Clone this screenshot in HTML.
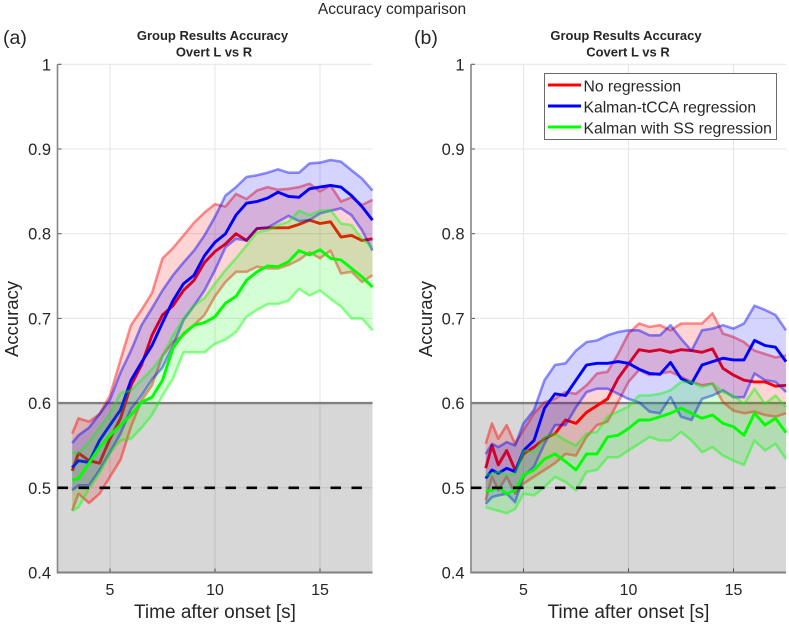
<!DOCTYPE html>
<html lang="en">
<head>
<meta charset="utf-8">
<title>Accuracy comparison</title>
<style>
html,body{margin:0;padding:0;background:#fff;}
svg{display:block;font-family:"Liberation Sans",Arial,sans-serif;}
text{fill:#262626;}
</style>
</head>
<body>
<svg id="chart" xmlns="http://www.w3.org/2000/svg" width="789" height="626" viewBox="0 0 789 626">
<rect x="0" y="0" width="789" height="626" fill="#fff"/>
<text x="392" y="14" font-size="15.5" text-anchor="middle">Accuracy comparison</text>
<text x="3" y="44" font-size="19.5">(a)</text>
<text x="414" y="44" font-size="19.5">(b)</text>
<text x="212.5" y="40" font-size="13" font-weight="bold" text-anchor="middle">Group Results Accuracy</text>
<text x="214" y="56.5" font-size="13" font-weight="bold" text-anchor="middle">Overt L vs R</text>
<text x="626" y="40" font-size="13" font-weight="bold" text-anchor="middle">Group Results Accuracy</text>
<text x="628" y="56.5" font-size="13" font-weight="bold" text-anchor="middle">Covert L vs R</text>
<text x="215" y="618" font-size="19" text-anchor="middle">Time after onset [s]</text>
<text x="628.5" y="618" font-size="19" text-anchor="middle">Time after onset [s]</text>
<text transform="translate(18,319) rotate(-90)" font-size="18.5" text-anchor="middle">Accuracy</text>
<text transform="translate(432,319) rotate(-90)" font-size="18.5" text-anchor="middle">Accuracy</text>
<g id="panel-a"></g>
<g id="panel-b"></g>
<g>
<rect x="544.5" y="73.5" width="232" height="66" fill="#fff" stroke="#6a6a6a" stroke-width="1"/>
<line x1="548" x2="581" y1="85" y2="85" stroke="#ff0000" stroke-width="3"/>
<text x="583.5" y="91.5" font-size="15.7">No regression</text>
<line x1="548" x2="581" y1="106" y2="106" stroke="#0000ff" stroke-width="3"/>
<text x="583.5" y="112.5" font-size="15.7">Kalman-tCCA regression</text>
<line x1="548" x2="581" y1="127" y2="127" stroke="#00ff00" stroke-width="3"/>
<text x="583.5" y="133.5" font-size="15.7">Kalman with SS regression</text>
</g>
</svg>
<script>
const xTicks = [5, 10, 15];
const yTicks = [0.4, 0.5, 0.6, 0.7, 0.8, 0.9, 1];
const yTickLabels = ["0.4", "0.5", "0.6", "0.7", "0.8", "0.9", "1"];
const chanceLevel = 0.5;
const significanceLevel = 0.6;

const timesA = [3.2,3.5,4,4.5,5,5.5,6,6.5,7,7.5,8,8.5,9,9.5,10,10.5,11,11.5,12,12.5,13,13.5,14,14.5,15,15.5,16,16.5,17,17.5];
const overtNoRegMean = [.52,.541,.532,.529,.558,.582,.621,.645,.68,.704,.715,.733,.745,.766,.779,.788,.8,.792,.806,.807,.807,.807,.811,.816,.812,.814,.796,.798,.792,.794];
const overtNoRegUpper = [.564,.582,.578,.587,.609,.651,.692,.71,.73,.771,.783,.798,.813,.825,.835,.832,.847,.841,.851,.855,.852,.853,.855,.859,.85,.857,.838,.843,.834,.84];
const overtNoRegLower = [.473,.493,.482,.493,.513,.533,.572,.603,.621,.656,.672,.68,.692,.704,.726,.743,.755,.755,.761,.759,.759,.763,.769,.778,.771,.78,.753,.755,.743,.751];
const overtTccaMean = [.524,.532,.53,.556,.574,.592,.627,.648,.668,.695,.721,.741,.751,.774,.79,.8,.822,.836,.838,.842,.849,.844,.843,.853,.855,.857,.855,.845,.832,.816];
const overtTccaUpper = [.553,.562,.571,.587,.604,.636,.662,.692,.712,.733,.751,.766,.78,.798,.82,.845,.855,.867,.869,.872,.876,.872,.872,.883,.884,.887,.885,.875,.865,.851];
const overtTccaLower = [.497,.503,.503,.521,.542,.564,.593,.609,.628,.642,.668,.698,.715,.733,.757,.784,.794,.792,.806,.807,.814,.821,.815,.816,.824,.827,.83,.822,.804,.78];
const overtSsMean = [.509,.511,.529,.548,.562,.574,.586,.601,.607,.627,.665,.682,.692,.695,.702,.718,.726,.745,.755,.762,.761,.767,.78,.775,.781,.771,.769,.759,.749,.737];
const overtSsUpper = [.542,.541,.554,.571,.587,.612,.615,.627,.64,.656,.68,.7,.715,.724,.741,.757,.771,.786,.802,.804,.81,.814,.827,.822,.827,.828,.812,.81,.794,.784];
const overtSsLower = [.473,.477,.499,.517,.541,.556,.558,.571,.586,.609,.629,.66,.66,.66,.67,.675,.684,.702,.71,.717,.717,.721,.735,.727,.733,.723,.714,.7,.7,.686];

const timesB = [3.2,3.5,3.8,4.2,4.6,5,5.5,6,6.5,7,7.5,8,8.5,9,9.5,10,10.5,11,11.5,12,12.5,13,13.5,14,14.5,15,15.5,16,16.5,17,17.5];
const covertNoRegMean = [.523,.55,.527,.544,.521,.54,.548,.558,.564,.58,.576,.589,.597,.605,.629,.646,.663,.661,.663,.66,.663,.662,.66,.664,.641,.633,.627,.625,.625,.62,.621];
const covertNoRegUpper = [.552,.576,.558,.574,.552,.568,.588,.601,.605,.613,.611,.621,.635,.637,.658,.682,.694,.69,.692,.686,.694,.694,.694,.706,.682,.678,.672,.662,.658,.654,.656];
const covertNoRegLower = [.485,.513,.497,.513,.493,.505,.513,.521,.529,.54,.538,.56,.574,.578,.601,.625,.639,.633,.635,.637,.631,.625,.621,.623,.601,.591,.588,.59,.586,.584,.588];
const covertTccaMean = [.511,.521,.517,.523,.519,.544,.556,.594,.611,.609,.627,.645,.647,.647,.649,.647,.64,.635,.634,.648,.629,.623,.645,.649,.653,.651,.651,.674,.668,.666,.649];
const covertTccaUpper = [.54,.552,.548,.554,.55,.576,.592,.627,.645,.647,.662,.672,.674,.68,.684,.686,.686,.68,.68,.692,.676,.662,.686,.688,.692,.688,.694,.715,.71,.704,.686];
const covertTccaLower = [.481,.489,.491,.493,.483,.513,.525,.552,.574,.574,.595,.613,.617,.617,.611,.605,.601,.59,.588,.607,.584,.58,.605,.609,.615,.607,.607,.635,.627,.625,.613];
const covertSsMean = [.496,.497,.501,.493,.497,.515,.521,.534,.54,.531,.521,.54,.54,.56,.562,.57,.58,.58,.584,.588,.594,.588,.582,.586,.576,.572,.562,.588,.574,.582,.565];
const covertSsUpper = [.515,.517,.519,.515,.517,.544,.542,.56,.564,.556,.55,.564,.566,.584,.59,.596,.609,.609,.611,.615,.625,.625,.619,.623,.613,.609,.599,.617,.599,.609,.595];
const covertSsLower = [.477,.475,.473,.47,.475,.493,.491,.501,.513,.507,.497,.519,.521,.536,.536,.544,.552,.56,.556,.556,.566,.556,.542,.548,.538,.532,.527,.556,.544,.552,.534];

const NS = 'http://www.w3.org/2000/svg';
const X_MIN = 2.5, X_MAX = 17.5, Y_MIN = 0.4, Y_MAX = 1;

function make(parent, tag, attrs) {
  const el = document.createElementNS(NS, tag);
  for (const k in attrs) el.setAttribute(k, attrs[k]);
  parent.appendChild(el);
  return el;
}

function drawPanel(root, prefix, left, times, seriesList) {
  const right = left + 315, top = 64.3, bottom = 572.5;
  const sx = t => left + (t - X_MIN) / (X_MAX - X_MIN) * (right - left);
  const sy = a => bottom - (a - Y_MIN) / (Y_MAX - Y_MIN) * (bottom - top);
  const pts = (xs, ys) => ys.map((v, i) => sx(xs[i]).toFixed(1) + ',' + sy(v).toFixed(1));

  xTicks.forEach(t => {
    const g = make(root, 'line', {x1: sx(t), x2: sx(t), y1: top, y2: bottom, stroke: '#e4e4e4', 'stroke-width': 1});
    
    
    const tk = make(root, 'line', {x1: sx(t), x2: sx(t), y1: bottom, y2: bottom - 4, stroke: '#555', 'stroke-width': 1});
    
    
    const lb = make(root, 'text', {x: sx(t), y: 595, 'font-size': 16, 'text-anchor': 'middle'});
    lb.textContent = String(t);
    
    
  });
  yTicks.forEach((a, i) => {
    const g = make(root, 'line', {x1: left, x2: right, y1: sy(a), y2: sy(a), stroke: '#e4e4e4', 'stroke-width': 1});
    
    
    const tk = make(root, 'line', {x1: left, x2: left + 4, y1: sy(a), y2: sy(a), stroke: '#555', 'stroke-width': 1});
    
    
    const lb = make(root, 'text', {x: left - 6.5, y: sy(a) + 6, 'font-size': 16.5, 'text-anchor': 'end'});
    lb.textContent = yTickLabels[i];
    
    
  });

  const patch = make(root, 'rect', {x: left, y: sy(significanceLevel), width: right - left, height: sy(Y_MIN) - sy(significanceLevel), fill: '#000', 'fill-opacity': 0.155});
  
  
  const patchTop = make(root, 'line', {x1: left, x2: right, y1: sy(significanceLevel), y2: sy(significanceLevel), stroke: '#808080', 'stroke-width': 2.4});
  
  

  const spineL = make(root, 'line', {x1: left, x2: left, y1: top, y2: bottom + 1, stroke: '#868686', 'stroke-width': 1.6});
  
  
  const spineB = make(root, 'line', {x1: left, x2: right, y1: bottom, y2: bottom, stroke: '#808080', 'stroke-width': 2});
  
  

  seriesList.forEach(s => {
    const up = pts(times, s.upper), lo = pts(times, s.lower), me = pts(times, s.mean);
    const band = make(root, 'polygon', {points: up.concat(lo.slice().reverse()).join(' '), fill: s.color, 'fill-opacity': 0.17, stroke: 'none'});
    
    
    const upper = make(root, 'polyline', {points: up.join(' '), fill: 'none', stroke: s.color, 'stroke-opacity': 0.43, 'stroke-width': 2.6, 'stroke-linejoin': 'round'});
    
    
    const lower = make(root, 'polyline', {points: lo.join(' '), fill: 'none', stroke: s.color, 'stroke-opacity': 0.43, 'stroke-width': 2.6, 'stroke-linejoin': 'round'});
    
    
    const mean = make(root, 'polyline', {points: me.join(' '), fill: 'none', stroke: s.color, 'stroke-width': 2.9, 'stroke-linejoin': 'round'});
    
    
  });

  const chance = make(root, 'line', {x1: left, x2: right, y1: sy(chanceLevel), y2: sy(chanceLevel), stroke: '#000', 'stroke-width': 2.6, 'stroke-dasharray': '10.5 10.5'});
  
  
}

drawPanel(document.getElementById('panel-a'), 'overt', 57.5, timesA, [
  {key: 'no-regression', color: '#ff0000', mean: overtNoRegMean, upper: overtNoRegUpper, lower: overtNoRegLower},
  {key: 'kalman-tcca', color: '#0000ff', mean: overtTccaMean, upper: overtTccaUpper, lower: overtTccaLower},
  {key: 'kalman-ss', color: '#00ff00', mean: overtSsMean, upper: overtSsUpper, lower: overtSsLower}
]);
drawPanel(document.getElementById('panel-b'), 'covert', 471, timesB, [
  {key: 'no-regression', color: '#ff0000', mean: covertNoRegMean, upper: covertNoRegUpper, lower: covertNoRegLower},
  {key: 'kalman-tcca', color: '#0000ff', mean: covertTccaMean, upper: covertTccaUpper, lower: covertTccaLower},
  {key: 'kalman-ss', color: '#00ff00', mean: covertSsMean, upper: covertSsUpper, lower: covertSsLower}
]);
</script>
</body>
</html>
